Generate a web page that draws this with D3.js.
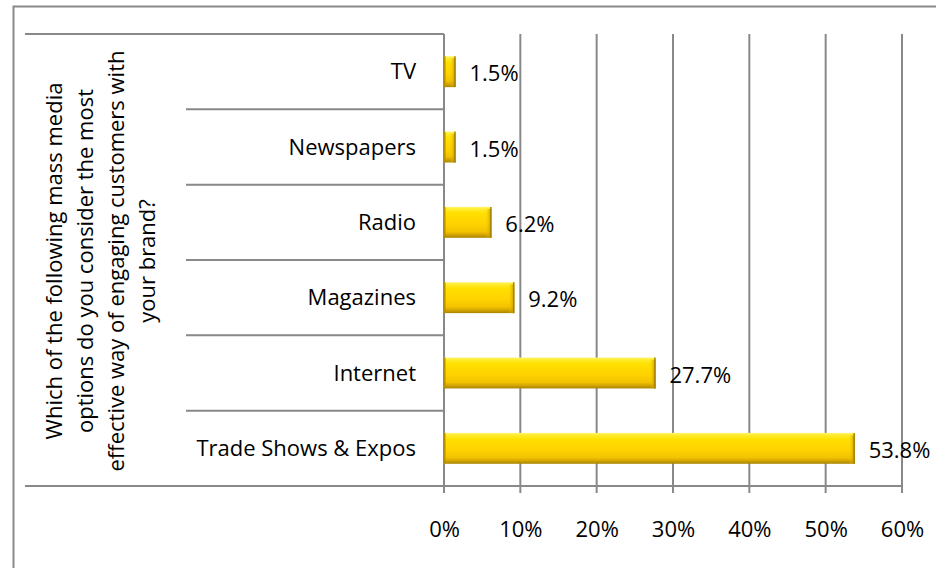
<!DOCTYPE html>
<html>
<head>
<meta charset="utf-8">
<script src="https://cdn.jsdelivr.net/npm/d3@7"></script>
<style>
  html, body { margin: 0; padding: 0; background: #fff; }
  svg { display: block; font-family: "Open Sans", "Noto Sans", sans-serif; }
</style>
</head>
<body>
<svg id="chart" width="936" height="568"></svg>
<script>
// Survey results: mass media options ranked by effectiveness
const categories = ["TV", "Newspapers", "Radio", "Magazines", "Internet", "Trade Shows & Expos"];
const values = [1.5, 1.5, 6.2, 9.2, 27.7, 53.8];
const xTicks = [0, 10, 20, 30, 40, 50, 60];
const questionLines = [
  "Which of the following mass media",
  "options do you consider the most",
  "effective way of engaging customers with",
  "your brand?"
];

(function () {
const svg = d3.select("#chart");
const grid = "#898989";
const fontSize = 22;
const plotL = 444, plotR = 902, plotT = 34, plotB = 486;

// gold bar gradients
const defs = svg.append("defs");
const vg = defs.append("linearGradient").attr("id", "gold").attr("x1", 0).attr("y1", 0).attr("x2", 0).attr("y2", 1);
[[0, "#fff46a"], [0.08, "#ffeb2a"], [0.2, "#ffe000"], [0.55, "#ffd200"], [0.8, "#f2c300"], [0.9, "#d4a600"], [1, "#a88300"]]
  .forEach(([o, c]) => vg.append("stop").attr("offset", o).attr("stop-color", c));
const hg = defs.append("linearGradient").attr("id", "goldEnd").attr("x1", 0).attr("y1", 0).attr("x2", 1).attr("y2", 0);
[[0, "#ffd200", 0], [1, "#b08a00", 0.85]]
  .forEach(([o, c, a]) => hg.append("stop").attr("offset", o).attr("stop-color", c).attr("stop-opacity", a));

// outer frame
svg.append("path").attr("d", "M13.5,568 V6.5 H936").attr("fill", "none").attr("stroke", grid).attr("stroke-width", 2);

const x = d3.scaleLinear().domain([0, 60]).range([plotL, plotR]);
const y = d3.scaleBand().domain(categories).range([plotT, plotB]).paddingInner(0.59).paddingOuter(0.295);
const band = d3.scaleBand().domain(categories).range([plotT, plotB]);

// vertical gridlines
svg.append("g").selectAll("line").data(xTicks).join("line")
  .attr("x1", d => x(d)).attr("x2", d => x(d))
  .attr("y1", plotT).attr("y2", plotB + 7)
  .attr("stroke", grid).attr("stroke-width", 2);

// x axis
const xAxis = svg.append("g").attr("transform", `translate(0,${plotB})`)
  .call(d3.axisBottom(x).tickValues(xTicks).tickFormat(d => d + "%").tickSize(0).tickPadding(35));
xAxis.select(".domain").remove();
xAxis.selectAll("text").attr("font-size", fontSize).attr("fill", "#000").attr("font-family", "Open Sans");

// category separators (two-level axis)
const seps = d3.range(categories.length + 1).map(i => plotT + i * band.step());
svg.append("g").selectAll("line").data(seps).join("line")
  .attr("x1", (d, i) => (i === 0 || i === categories.length) ? 25 : 186)
  .attr("x2", (d, i) => i === categories.length ? plotR : plotL)
  .attr("y1", d => d).attr("y2", d => d)
  .attr("stroke", grid).attr("stroke-width", 2);

// category labels
svg.append("g").selectAll("text").data(categories).join("text")
  .attr("x", plotL - 28)
  .attr("y", d => band(d) + band.bandwidth() / 2)
  .attr("dy", "0.35em")
  .attr("text-anchor", "end")
  .attr("font-size", fontSize)
  .text(d => d);

// bars
const bars = svg.append("g").selectAll("g").data(categories).join("g");
bars.append("rect")
  .attr("x", x(0)).attr("y", d => y(d))
  .attr("width", (d, i) => x(values[i]) - x(0))
  .attr("height", y.bandwidth())
  .attr("fill", "url(#gold)");
bars.append("rect")
  .attr("x", (d, i) => Math.max(x(0), x(values[i]) - 6)).attr("y", d => y(d) + 2)
  .attr("width", (d, i) => Math.min(6, x(values[i]) - x(0)))
  .attr("height", y.bandwidth() - 2)
  .attr("fill", "url(#goldEnd)");
bars.append("line")
  .attr("x1", (d, i) => x(values[i]) - 0.5).attr("x2", (d, i) => x(values[i]) - 0.5)
  .attr("y1", d => y(d)).attr("y2", d => y(d) + y.bandwidth())
  .attr("stroke", "#a88300").attr("stroke-width", 1.5);
bars.append("line")
  .attr("x1", x(0) + 0.5).attr("x2", x(0) + 0.5)
  .attr("y1", d => y(d)).attr("y2", d => y(d) + y.bandwidth())
  .attr("stroke", "#b89000").attr("stroke-width", 2);

// value labels
svg.append("g").selectAll("text").data(categories).join("text")
  .attr("x", (d, i) => x(values[i]) + 14)
  .attr("y", d => y(d) + y.bandwidth() / 2 + 2)
  .attr("dy", "0.35em")
  .attr("font-size", fontSize)
  .text((d, i) => values[i].toFixed(1) + "%");

// rotated question label
const qg = svg.append("g").attr("transform", "translate(0,261) rotate(-90)");
qg.selectAll("text").data(questionLines).join("text")
  .attr("x", 0)
  .attr("y", (d, i) => 62 + i * 31)
  .attr("text-anchor", "middle")
  .attr("font-size", fontSize)
  .text(d => d);
})();
</script>
</body>
</html>
